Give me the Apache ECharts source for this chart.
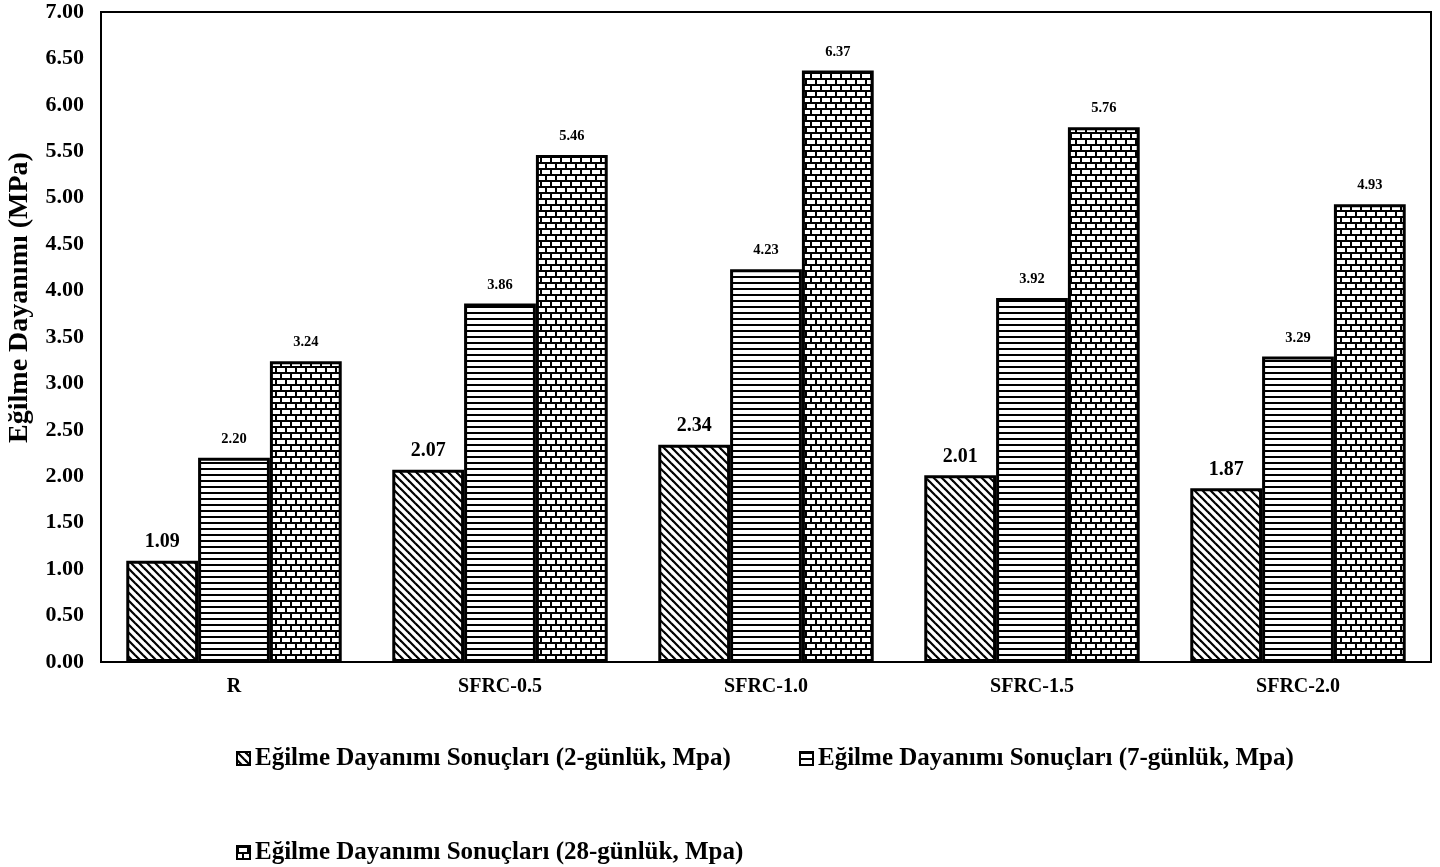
<!DOCTYPE html>
<html><head><meta charset="utf-8">
<script src="https://cdn.jsdelivr.net/npm/echarts@6/dist/echarts.min.js"></script>
<style>html,body{margin:0;padding:0;background:#fff}#c{width:1440px;height:867px}</style>
</head><body><div id="c"></div>
<script>
const categories = ['R', 'SFRC-0.5', 'SFRC-1.0', 'SFRC-1.5', 'SFRC-2.0'];
const day2 = [1.09, 2.07, 2.34, 2.01, 1.87];
const day7 = [2.20, 3.86, 4.23, 3.92, 3.29];
const day28 = [3.24, 5.46, 6.37, 5.76, 4.93];
const seriesNames = [
  'Eğilme Dayanımı Sonuçları (2-günlük, Mpa)',
  'Eğilme Dayanımı Sonuçları (7-günlük, Mpa)',
  'Eğilme Dayanımı Sonuçları (28-günlük, Mpa)'
];

function mk(w, h, draw) {
  const c = document.createElement('canvas'); c.width = w; c.height = h;
  const g = c.getContext('2d'); g.fillStyle = '#fff'; g.fillRect(0, 0, w, h);
  draw(g); return c;
}
const diag = mk(8, 8, g => {
  g.strokeStyle = '#000'; g.lineWidth = 2.2;
  for (let k = -1; k <= 1; k++) { g.beginPath(); g.moveTo(k * 8 - 2, -2); g.lineTo(k * 8 + 10, 10); g.stroke(); }
});
const horiz = mk(6, 6, g => { g.fillStyle = '#000'; g.fillRect(0, 0, 6, 2); });
const brick = mk(10, 12, g => {
  g.fillStyle = '#000';
  g.fillRect(0, 0, 10, 2); g.fillRect(0, 6, 10, 2);
  g.fillRect(0, 0, 2, 6); g.fillRect(5, 6, 2, 6);
});
const pats = [diag, horiz, brick].map(c => ({ image: c, repeat: 'repeat' }));

const font = 'Liberation Serif';
function mkSeries(i, data, fs) {
  return {
    name: seriesNames[i], type: 'bar', data: data,
    barGap: '0%', barCategoryGap: '19%',
    itemStyle: { color: pats[i], borderColor: '#000', borderWidth: 3 },
    label: { show: true, position: 'top', distance: i === 0 ? 9 : 11, formatter: p => p.value.toFixed(2),
      fontFamily: font, fontWeight: 'bold', fontSize: fs, color: '#000' },
    emphasis: { disabled: true }
  };
}
const chart = echarts.init(document.getElementById('c'));
const legendText = { fontFamily: font, fontWeight: 'bold', fontSize: 25, color: '#000' };
const legendCommon = { icon: 'rect', itemWidth: 13, itemHeight: 13, itemGap: 4, textStyle: legendText,
  selectedMode: false, padding: 0, itemStyle: { borderColor: '#000', borderWidth: 2 } };
chart.setOption({
  animation: false,
  grid: { left: 101, right: 9, top: 12, bottom: 205, show: true, borderColor: '#000', borderWidth: 2,
    containLabel: false, outerBoundsMode: 'none' },
  xAxis: { type: 'category', data: categories,
    axisLine: { lineStyle: { color: '#000', width: 2 } }, axisTick: { show: false },
    axisLabel: { fontFamily: font, fontWeight: 'bold', fontSize: 20, color: '#000', margin: 15 } },
  yAxis: { type: 'value', min: 0, max: 7, interval: 0.5,
    name: 'Eğilme Dayanımı (MPa)', nameLocation: 'middle', nameGap: 67,
    nameTextStyle: { fontFamily: font, fontWeight: 'bold', fontSize: 28, color: '#000', padding: [0, 0, 0, 79] },
    axisLine: { show: true, lineStyle: { color: '#000', width: 2 } }, axisTick: { show: false },
    splitLine: { show: false },
    axisLabel: { formatter: v => v.toFixed(2), fontFamily: font, fontWeight: 'bold', fontSize: 22, color: '#000', margin: 17 } },
  legend: [
    Object.assign({ data: [seriesNames[0]], left: 236, top: 746 }, legendCommon),
    Object.assign({ data: [seriesNames[1]], left: 799, top: 746 }, legendCommon),
    Object.assign({ data: [seriesNames[2]], left: 236, top: 840 }, legendCommon)
  ],
  series: [mkSeries(0, day2, 20), mkSeries(1, day7, 14.5), mkSeries(2, day28, 14.5)]
});
</script></body></html>
